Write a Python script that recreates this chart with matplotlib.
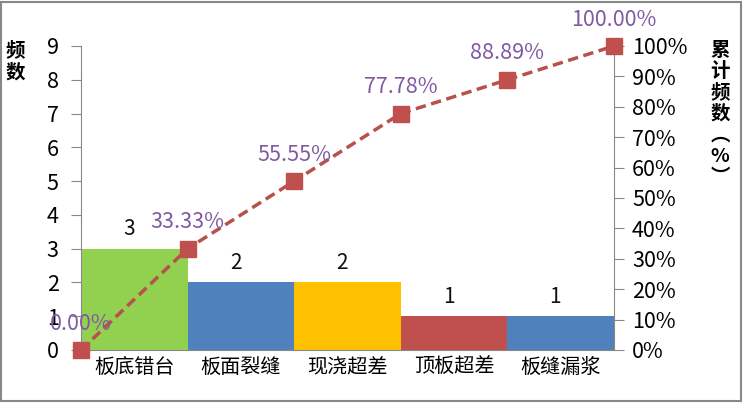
import matplotlib
matplotlib.use("Agg")
import matplotlib.pyplot as plt
from matplotlib.patches import Rectangle
import numpy as np

plt.rcParams["font.family"] = ["Noto Sans CJK SC", "DejaVu Sans"]

categories = ["板底错台", "板面裂缝", "现浇超差", "顶板超差", "板缝漏浆"]
counts = [3, 2, 2, 1, 1]
cum_pct = [0.0, 33.33, 55.55, 77.78, 88.89, 100.00]
cum_labels = ["0.00%", "33.33%", "55.55%", "77.78%", "88.89%", "100.00%"]
bar_colors = ["#92D050", "#4F81BD", "#FFC000", "#C0504D", "#4F81BD"]

fig = plt.figure(figsize=(7.44, 4.03), dpi=100)
ax = fig.add_axes([81 / 744, 53 / 403, 533 / 744, 304 / 403])

x = np.arange(len(categories)) + 0.5
ax.bar(x, counts, width=1.0, color=bar_colors, edgecolor="none", zorder=2)
for xi, c in zip(x, counts):
    ax.annotate(str(c), (xi - 0.05, c), xytext=(0, 6), textcoords="offset points",
                ha="center", va="bottom", fontsize=15, color="#111111")

ax.set_xlim(0, 5)
ax.set_ylim(0, 9)
ax.set_yticks(range(10))
ax.set_xticks(x)
ax.set_xticklabels(categories, fontsize=14.5)
ax.tick_params(axis="x", length=0, pad=5)
ax.tick_params(axis="y", labelsize=15.5, length=7, color="#888888", pad=9)
for side in ("top", "right"):
    ax.spines[side].set_visible(False)
for side in ("left", "bottom"):
    ax.spines[side].set_color("#888888")

ax2 = ax.twinx()
ax2.set_ylim(0, 100)
ax2.set_yticks(range(0, 101, 10))
ax2.set_yticklabels([f"{v}%" for v in range(0, 101, 10)])
ax2.tick_params(axis="y", labelsize=15.5, length=7, color="#888888", pad=6)
for side in ("top", "left", "bottom"):
    ax2.spines[side].set_visible(False)
ax2.spines["right"].set_color("#888888")

xp = np.arange(len(cum_pct))
ax2.plot(xp, cum_pct, color="#B8504B", linestyle=(0, (3, 1.6)), linewidth=2.5,
         marker="s", markersize=11, markerfacecolor="#C0504D",
         markeredgecolor="#C0504D", clip_on=False, zorder=5)
for xi, yi, lab in zip(xp, cum_pct, cum_labels):
    ax2.annotate(lab, (xi, yi), xytext=(0, 11), textcoords="offset points",
                 ha="center", va="bottom", fontsize=15.5, color="#7F5AA2",
                 annotation_clip=False, zorder=6)

fig.text(15 / 744, 1 - 62 / 403, "频\n数", ha="center", va="center",
         fontsize=14, fontweight="bold", linespacing=1.2)
fig.text(720 / 744, 1 - 114 / 403, "累\n计\n频\n数\n︵\n%\n︶", ha="center",
         va="center", fontsize=14, fontweight="bold", linespacing=1.15)

fig.patches.append(Rectangle((0.002, 0.004), 0.994, 0.99, transform=fig.transFigure,
                             fill=False, edgecolor="#888888", linewidth=1.5))

fig.savefig("out.png", dpi=100)
